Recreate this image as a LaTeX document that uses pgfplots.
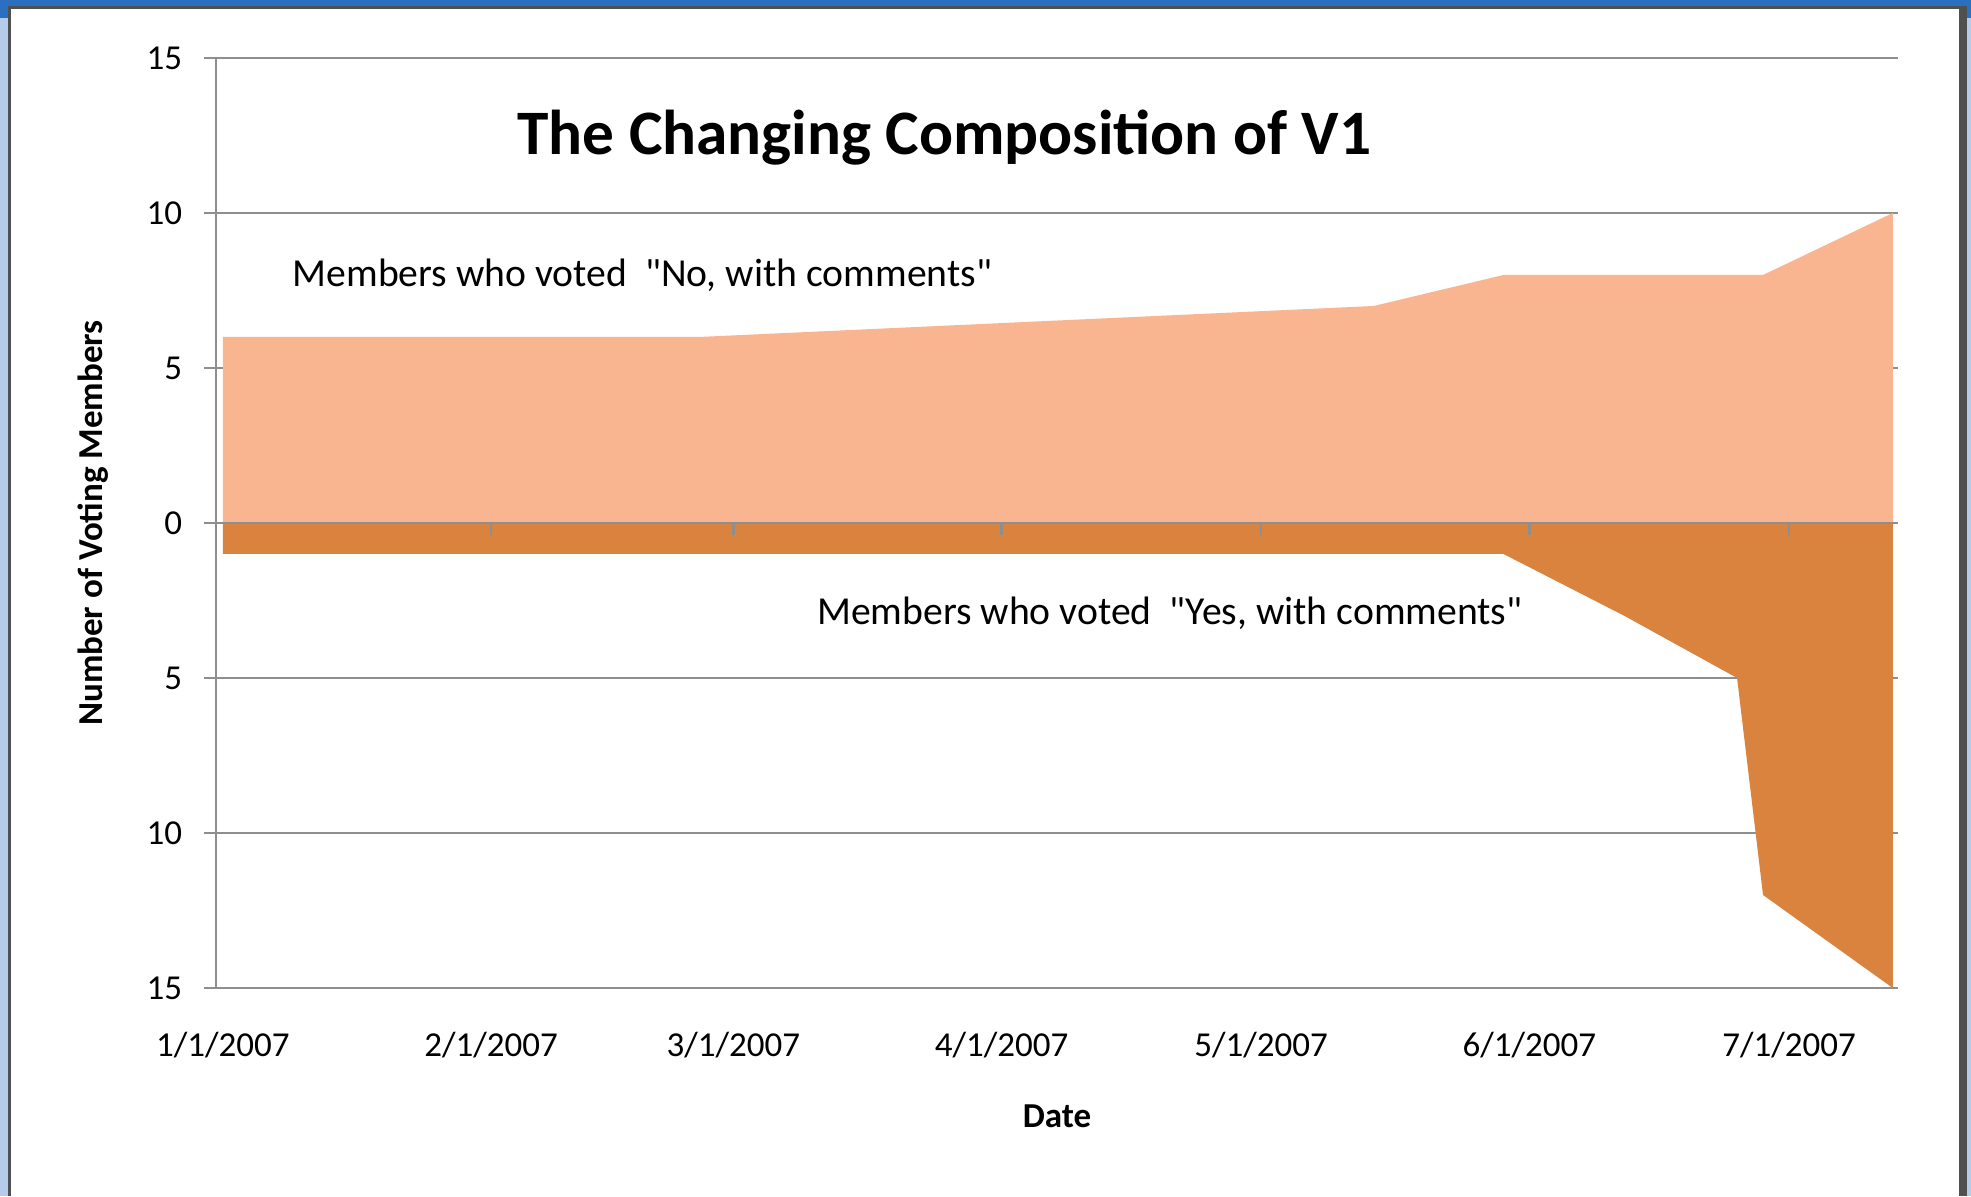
\documentclass[border=0pt]{standalone}
\usepackage{fontspec}
\setmainfont{Carlito}[Ligatures=TeXOff]
\usepackage{pgfplots}
\pgfplotsset{compat=1.18}
\definecolor{noc}{HTML}{F8B590}
\definecolor{yesc}{HTML}{DA833E}
\definecolor{gridc}{HTML}{8E8E8E}
\definecolor{winblue}{HTML}{2A6FC0}
\definecolor{winlight}{HTML}{B4CCEA}
\definecolor{wingray}{HTML}{505050}
\begin{document}
\begin{tikzpicture}
\path[use as bounding box] (0,0) rectangle (591.3pt,358.8pt);
\fill[white] (0,0) rectangle (591.3pt,358.8pt);
\begin{scope}[x=0.3pt,y=0.3pt]
\fill[winlight] (0,0) rectangle (8,1178);
\fill[winlight] (1967,0) rectangle (1971,1178);
\fill[winblue] (0,1190) rectangle (1971,1196);
\fill[winblue] (0,1178) rectangle (8,1190);
\fill[winblue] (1967,1178) rectangle (1971,1190);
\fill[wingray] (8,0) rectangle (11,1190);
\fill[wingray] (8,1187) rectangle (1967,1190);
\fill[wingray] (1959,0) rectangle (1967,1190);
\end{scope}
\begin{axis}[
  at={(64.8pt,62.4pt)}, anchor=south west,
  scale only axis, width=504.6pt, height=279pt,
  xmin=-0.8, xmax=193.6, ymin=-15, ymax=15,
  axis lines*=left,
  x axis line style={draw=none},
  y axis line style={draw=gridc, line width=0.75pt},
  tick align=outside,
  major tick length=3.6pt,
  xtick={0,31,59,90,120,151,181},
  xticklabels={1/1/2007,2/1/2007,3/1/2007,4/1/2007,5/1/2007,6/1/2007,7/1/2007},
  xtick style={draw=none},
  ytick={-15,-10,-5,0,5,10,15},
  yticklabels={15,10,5,0,5,10,15},
  ytick style={draw=gridc, line width=0.75pt},
  ymajorgrids, grid style={gridc, line width=0.75pt},
  tick label style={font=\fontsize{10.5}{12}\selectfont},
  xticklabel style={anchor=base, yshift=-16.8pt},
  yticklabel style={xshift=-3pt},
  /pgf/number format/assume math mode=true,
  xlabel={Date}, ylabel={Number of Voting Members},
  label style={font=\bfseries\fontsize{10.5}{12}\selectfont},
  xlabel style={at={(axis description cs:0.5,-0.1376)}, anchor=center},
  ylabel style={at={(axis description cs:-0.0731,0.5)}, anchor=center},
  clip=false,
]
% Members who voted "No, with comments"
\addplot[fill=noc, draw=none] coordinates {
  (0,0) (0,6) (55,6) (133,7) (148,8) (178,8) (193,10) (193,0)
};
% Members who voted "Yes, with comments" (plotted downward)
\addplot[fill=yesc, draw=none] coordinates {
  (0,0) (0,-1) (148,-1) (162,-3) (175,-5) (178,-12) (193,-15) (193,0)
};
\draw[gridc, line width=0.75pt] (axis cs:-0.8,0) -- (axis cs:193.6,0);
\pgfplotsinvokeforeach{31,59,90,120,151,181}{
  \draw[gridc, line width=0.75pt] (axis cs:#1,0) -- ([yshift=-3.6pt]axis cs:#1,0);
}
\node[font=\bfseries\fontsize{19}{23}\selectfont] at (rel axis cs:0.433,0.914) {The Changing Composition of V1};
\node[anchor=west, inner sep=0pt, font=\fontsize{11.9}{14}\selectfont] at (rel axis cs:0.0452,0.766) {Members who voted \ "No, with comments"};
\node[anchor=west, inner sep=0pt, font=\fontsize{11.9}{14}\selectfont] at (rel axis cs:0.357,0.403) {Members who voted \ "Yes, with comments"};
\end{axis}
\end{tikzpicture}
\end{document}
